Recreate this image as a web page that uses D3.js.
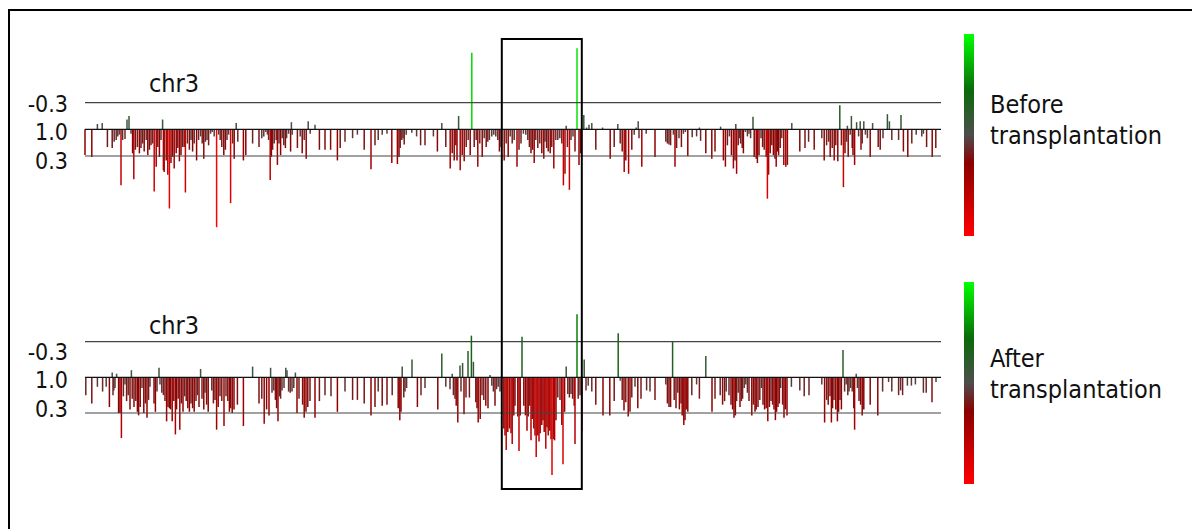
<!DOCTYPE html>
<html>
<head>
<meta charset="utf-8">
<script src="https://cdn.jsdelivr.net/npm/d3@7"></script>
<style>
body { margin: 0; background: #fff; }
svg { display: block; font-family: 'DejaVu Sans Condensed', 'DejaVu Sans', sans-serif; }
</style>
</head>
<body>
<svg id="chart" width="1192" height="529"></svg>
<script>
// chromosome 3, position (Mb) and expression deviation for each probe
const chrLength = 214;
const chrName = "chr3";

// before transplantation : [position, value]
const beforeBars = [
  [0.0,-0.29],[1.7,-0.31],[3.1,0.06],[4.3,0.07],[5.6,-0.20],[6.8,-0.21],[7.3,-0.14],[7.8,-0.12],[8.2,-0.08],[8.6,-0.06],
  [9.0,-0.63],[9.4,-0.12],[10.0,-0.11],[10.5,0.11],[11.0,0.15],[11.5,-0.05],[11.9,-0.27],[12.2,-0.56],[12.6,-0.23],[13.1,-0.20],
  [13.6,-0.27],[14.0,-0.21],[14.4,-0.16],[14.8,-0.25],[15.3,-0.12],[15.7,-0.29],[16.1,-0.23],[16.5,-0.18],[16.9,-0.16],[17.3,-0.70],
  [17.8,-0.42],[18.2,-0.20],[18.6,-0.31],[19.0,-0.12],[19.4,0.11],[19.6,-0.46],[19.8,-0.48],[20.3,-0.35],[20.7,-0.51],[21.1,-0.89],
  [21.5,-0.38],[21.9,-0.31],[22.3,-0.44],[22.8,-0.27],[23.2,-0.21],[23.6,-0.36],[24.0,-0.29],[24.4,-0.20],[24.8,-0.20],[25.1,-0.71],
  [25.6,-0.16],[26.1,-0.23],[26.5,-0.12],[26.9,-0.25],[27.3,-0.16],[27.9,-0.35],[28.4,-0.12],[28.9,-0.08],[29.3,-0.16],[29.7,-0.33],
  [30.1,-0.14],[30.5,-0.12],[30.9,-0.18],[31.4,-0.05],[31.8,-0.03],[32.3,-0.08],[32.9,-1.10],[33.4,-0.06],[33.8,-0.12],[34.2,-0.20],
  [34.7,-0.29],[35.1,-0.23],[35.5,-0.12],[35.9,-0.06],[36.4,-0.83],[36.9,-0.16],[37.3,-0.33],[37.8,0.07],[38.2,-0.14],[39.6,-0.35],
  [40.2,-0.29],[41.9,-0.16],[43.5,-0.20],[44.2,-0.10],[44.7,-0.08],[45.2,-0.03],[45.6,-0.06],[45.9,-0.12],[46.3,-0.57],[46.6,-0.31],
  [46.9,-0.23],[47.3,-0.16],[47.8,-0.12],[48.1,-0.40],[48.5,-0.16],[48.9,-0.29],[49.3,-0.10],[49.7,-0.18],[50.1,-0.21],[50.4,-0.10],
  [50.9,-0.05],[51.4,-0.25],[51.6,0.08],[51.8,-0.06],[53.1,-0.21],[53.8,-0.08],[54.3,-0.27],[54.8,-0.12],[55.3,-0.33],[55.8,0.09],
  [56.3,-0.05],[57.5,0.05],[58.6,-0.23],[60.0,-0.23],[61.4,-0.23],[63.1,-0.35],[63.8,-0.21],[65.0,-0.14],[66.9,-0.10],[68.1,-0.06],
  [69.8,-0.23],[71.5,-0.45],[72.5,-0.18],[73.3,-0.12],[74.3,-0.06],[75.5,-0.05],[76.7,-0.38],[78.1,-0.39],[78.5,-0.31],[78.8,-0.21],
  [79.2,-0.12],[79.5,-0.10],[79.8,-0.17],[80.3,-0.06],[81.7,-0.04],[82.9,-0.08],[83.9,-0.18],[85.0,-0.18],[87.1,-0.08],[88.1,-0.25],
  [89.2,0.07],[90.2,-0.20],[91.3,-0.44],[91.8,-0.27],[92.3,-0.35],[92.7,-0.18],[93.0,-0.35],[93.4,0.15],[93.8,-0.46],[94.3,-0.29],
  [94.8,-0.36],[95.3,-0.20],[95.8,-0.12],[96.3,-0.29],[96.7,0.86],[97.3,-0.20],[97.8,-0.12],[98.2,-0.42],[98.7,-0.16],[99.3,-0.31],
  [99.8,-0.10],[100.3,-0.20],[100.7,-0.14],[101.1,-0.12],[101.7,-0.08],[102.2,-0.06],[102.7,-0.08],[103.2,-0.12],[103.6,-0.25],[104.0,-0.20],
  [104.8,-0.35],[105.3,-0.16],[105.8,-0.31],[106.3,-0.08],[106.8,-0.16],[107.3,-0.12],[108.0,-0.42],[108.5,-0.23],[109.0,-0.16],[109.6,-0.05],
  [110.2,-0.06],[110.7,-0.12],[111.1,-0.20],[111.5,-0.27],[111.9,-0.23],[112.3,-0.38],[112.7,-0.12],[113.2,-0.21],[113.7,-0.16],[114.2,-0.27],
  [114.7,-0.33],[115.0,-0.14],[115.4,-0.21],[115.8,-0.25],[116.3,-0.27],[116.7,-0.20],[117.2,-0.44],[117.7,-0.12],[118.2,-0.12],[118.7,-0.10],
  [119.2,-0.16],[119.6,-0.63],[120.0,-0.50],[120.3,0.04],[120.6,-0.20],[121.1,-0.68],[121.5,-0.12],[122.0,-0.08],[122.5,-0.25],[123.0,0.91],
  [123.5,-0.40],[123.9,-0.27],[124.7,0.16],[125.4,0.02],[126.0,0.05],[126.7,0.07],[127.7,-0.23],[129.4,0.02],[131.3,-0.33],[132.3,-0.20],
  [133.2,0.06],[133.8,-0.16],[134.3,-0.25],[134.8,-0.48],[135.2,-0.35],[135.9,-0.50],[136.7,-0.23],[137.3,-0.06],[137.8,0.02],[138.3,0.09],
  [138.5,-0.10],[139.2,-0.42],[140.3,-0.05],[142.5,-0.31],[145.2,-0.14],[145.6,-0.16],[146.0,-0.17],[146.4,-0.18],[147.1,-0.06],[147.5,-0.42],
  [147.9,-0.21],[148.5,-0.10],[149.1,-0.20],[149.6,-0.05],[150.1,-0.03],[150.7,-0.30],[151.8,-0.09],[152.9,-0.08],[153.6,0.02],[153.9,-0.13],
  [155.2,-0.27],[156.7,-0.33],[157.5,-0.25],[158.9,0.03],[159.6,-0.35],[160.1,-0.42],[160.6,-0.18],[161.1,-0.08],[161.6,-0.29],[162.1,-0.44],
  [162.5,-0.35],[162.7,0.06],[162.9,-0.50],[163.3,-0.18],[163.6,-0.10],[163.9,-0.16],[164.3,-0.21],[164.6,-0.27],[165.1,-0.03],[165.6,-0.08],
  [166.0,-0.05],[166.4,-0.10],[167.0,0.14],[167.3,-0.31],[167.8,-0.33],[168.1,-0.38],[168.5,-0.29],[169.0,-0.10],[169.4,-0.20],[169.8,-0.23],
  [170.3,-0.31],[170.6,-0.78],[170.9,-0.51],[171.3,-0.27],[171.7,-0.18],[172.1,-0.29],[172.5,-0.33],[172.8,-0.42],[173.1,-0.25],[173.4,-0.29],
  [173.8,-0.21],[174.2,-0.10],[174.7,-0.40],[175.2,-0.42],[175.6,-0.40],[176.7,0.07],[178.7,-0.25],[180.0,-0.21],[180.9,-0.14],[182.3,-0.23],
  [184.2,-0.10],[184.8,-0.35],[185.4,-0.18],[185.9,-0.14],[186.3,-0.31],[186.8,-0.21],[187.3,-0.35],[187.7,-0.18],[188.2,-0.36],[188.7,0.27],
  [189.1,-0.18],[189.6,-0.65],[190.0,-0.27],[190.4,-0.14],[190.6,0.04],[190.8,-0.31],[191.3,-0.06],[191.6,0.15],[191.8,-0.21],[192.0,-0.29],
  [192.4,-0.40],[192.9,0.08],[193.4,-0.08],[193.8,0.09],[194.0,-0.23],[194.3,-0.16],[194.7,0.09],[195.1,-0.06],[195.6,-0.10],[196.3,-0.31],
  [196.9,0.07],[198.3,-0.20],[198.8,-0.23],[199.5,-0.10],[200.6,0.17],[201.1,0.09],[201.7,-0.12],[203.4,-0.12],[204.0,0.16],[204.6,-0.25],
  [205.7,-0.31],[206.7,-0.16],[207.8,-0.06],[209.2,-0.08],[209.6,-0.05],[210.4,-0.20],[211.8,-0.31],[212.7,-0.21]
];

// after transplantation : [position, value]
const afterBars = [
  [0.2,-0.15],[1.7,-0.22],[3.1,-0.08],[4.4,-0.12],[5.3,-0.08],[6.1,-0.25],[6.8,0.04],[7.0,-0.15],[7.2,-0.11],[7.5,-0.09],
  [7.9,0.03],[8.4,-0.30],[8.75,-0.30],[9.1,-0.51],[9.6,-0.16],[10.0,-0.06],[10.4,-0.20],[10.8,-0.15],[11.25,-0.27],[11.6,0.06],
  [11.8,-0.18],[12.25,-0.25],[12.7,-0.20],[13.1,-0.29],[13.4,-0.32],[13.8,-0.25],[14.25,-0.09],[14.7,-0.30],[15.1,-0.22],[15.5,-0.34],
  [15.9,-0.19],[16.25,-0.08],[17.25,-0.22],[17.6,-0.29],[18.0,-0.12],[18.5,0.08],[18.75,-0.06],[19.2,-0.13],[19.6,-0.15],[20.0,-0.20],
  [20.4,-0.37],[20.75,-0.25],[21.1,-0.26],[21.4,-0.27],[21.8,-0.37],[22.2,-0.20],[22.6,-0.48],[22.9,-0.27],[23.3,-0.18],[23.7,-0.44],
  [24.1,-0.22],[24.5,-0.29],[24.9,-0.16],[25.3,-0.20],[25.7,-0.26],[26.1,-0.29],[26.5,-0.22],[26.9,-0.26],[27.3,-0.29],[27.75,-0.20],
  [28.1,-0.15],[28.5,-0.25],[28.9,0.07],[29.25,-0.18],[29.7,-0.27],[30.0,-0.13],[30.4,-0.23],[30.8,-0.29],[31.7,-0.11],[32.1,-0.22],
  [32.5,-0.19],[32.9,-0.44],[33.3,-0.25],[33.75,-0.16],[34.2,-0.20],[34.75,-0.41],[35.25,-0.16],[35.7,-0.20],[36.1,-0.29],[36.4,-0.26],
  [36.8,-0.30],[37.25,-0.27],[38.1,-0.23],[39.6,-0.41],[41.9,0.09],[43.5,-0.22],[44.2,-0.18],[44.8,-0.39],[45.4,-0.27],[46.0,-0.32],
  [46.4,0.08],[46.75,-0.13],[47.2,-0.11],[47.6,-0.19],[47.9,-0.26],[48.25,-0.37],[48.6,-0.16],[48.9,-0.18],[49.25,-0.11],[49.75,-0.09],
  [50.2,0.08],[50.5,0.06],[50.9,-0.12],[51.3,-0.13],[51.75,-0.12],[52.2,-0.09],[52.6,0.04],[53.0,-0.30],[53.5,-0.18],[54.4,-0.23],
  [54.8,-0.34],[55.25,-0.29],[55.7,-0.25],[56.25,-0.20],[57.5,-0.34],[58.6,-0.20],[60.0,-0.15],[61.5,-0.16],[63.1,-0.29],[65.0,-0.12],
  [66.9,-0.19],[68.1,-0.19],[69.8,-0.22],[71.5,-0.32],[72.5,-0.25],[73.3,-0.12],[74.3,-0.24],[75.5,-0.23],[76.8,-0.15],[78.3,-0.26],
  [78.7,-0.36],[79.0,-0.29],[79.3,0.09],[79.7,-0.17],[80.0,-0.12],[80.4,-0.09],[81.75,0.15],[83.1,-0.25],[84.0,-0.15],[85.0,-0.09],
  [88.2,-0.27],[89.2,0.20],[90.2,-0.08],[91.25,-0.10],[91.8,0.03],[92.1,-0.15],[92.5,-0.18],[92.8,-0.24],[93.2,-0.38],[93.75,0.10],
  [94.0,-0.12],[94.4,0.12],[94.75,-0.31],[95.25,-0.17],[95.75,0.22],[96.1,-0.17],[96.6,0.35],[97.1,0.13],[97.7,-0.21],[98.0,-0.26],
  [98.3,-0.38],[98.8,-0.35],[99.25,-0.15],[99.7,-0.19],[100.2,-0.24],[100.75,-0.26],[101.25,0.02],[101.7,-0.07],[102.1,-0.12],[102.5,-0.24],
  [102.9,-0.10],[103.3,-0.08],[103.75,-0.12],[104.7,-0.43],[105.0,-0.49],[105.3,-0.61],[105.7,-0.46],[106.1,-0.43],[106.5,-0.47],[106.8,-0.56],
  [107.2,-0.32],[107.5,-0.24],[108.2,-0.33],[108.5,-0.62],[108.8,-0.32],[109.25,0.34],[109.7,-0.24],[110.1,-0.32],[110.5,-0.45],[110.8,-0.33],
  [111.2,-0.24],[111.5,-0.53],[111.8,-0.35],[112.2,-0.43],[112.5,-0.49],[112.8,-0.67],[113.2,-0.49],[113.5,-0.54],[113.8,-0.47],[114.2,-0.40],
  [114.5,-0.36],[114.8,-0.46],[115.2,-0.60],[115.5,-0.42],[115.8,-0.49],[116.2,-0.45],[116.5,-0.52],[116.75,-0.82],[117.1,-0.52],[117.4,-0.53],
  [117.75,-0.36],[118.2,-0.17],[118.75,-0.19],[119.2,-0.40],[119.5,-0.73],[119.9,-0.29],[120.3,0.09],[120.7,-0.14],[121.1,-0.17],[121.5,-0.14],
  [121.9,-0.18],[122.3,-0.24],[122.5,-0.56],[123.0,0.53],[123.3,-0.18],[123.75,-0.15],[124.2,-0.45],[124.8,0.15],[125.25,-0.11],[125.8,-0.07],
  [126.7,-0.12],[127.7,-0.23],[129.5,-0.32],[131.2,-0.32],[132.3,-0.20],[133.3,0.37],[133.8,-0.03],[134.3,-0.19],[134.75,-0.28],[135.2,-0.21],
  [135.8,-0.33],[136.25,-0.29],[136.7,-0.17],[137.5,-0.08],[138.2,-0.26],[139.0,-0.18],[140.4,-0.11],[141.25,-0.12],[142.5,-0.19],[145.2,-0.06],
  [145.6,-0.22],[146.0,-0.25],[146.4,-0.25],[146.9,0.30],[147.3,-0.19],[147.75,-0.26],[148.2,-0.13],[148.6,-0.27],[149.0,-0.22],[149.3,-0.32],
  [149.7,-0.40],[150.0,-0.36],[150.3,-0.27],[150.7,-0.29],[151.7,-0.15],[152.9,-0.06],[153.6,-0.18],[155.2,0.18],[156.75,-0.29],[157.5,-0.18],
  [158.8,-0.15],[159.4,-0.23],[159.9,-0.20],[160.3,-0.12],[161.0,-0.15],[161.5,-0.23],[161.9,-0.27],[162.25,-0.34],[162.6,-0.32],[162.9,-0.20],
  [163.3,-0.13],[163.75,-0.25],[164.1,-0.20],[164.4,-0.18],[164.8,-0.09],[165.2,-0.06],[165.6,-0.13],[166.0,-0.20],[166.7,-0.32],[167.1,-0.23],
  [167.5,-0.29],[167.8,-0.27],[168.25,-0.25],[168.7,-0.19],[169.1,-0.09],[169.5,-0.23],[169.9,-0.27],[170.3,-0.26],[170.7,-0.37],[171.1,-0.25],
  [171.5,-0.20],[171.9,-0.23],[172.25,-0.27],[172.6,-0.36],[172.9,-0.29],[173.25,-0.25],[173.6,-0.22],[173.9,-0.09],[174.4,-0.23],[174.75,-0.34],
  [175.1,-0.27],[175.5,-0.32],[176.6,-0.08],[178.7,-0.11],[179.8,-0.16],[181.0,-0.15],[184.2,-0.06],[184.9,-0.38],[185.4,-0.19],[185.8,-0.23],
  [186.25,-0.16],[186.6,-0.38],[186.9,-0.26],[187.25,-0.19],[187.7,-0.27],[188.1,-0.37],[188.4,-0.29],[188.75,-0.19],[189.1,-0.27],[189.5,0.23],
  [189.9,-0.12],[190.3,-0.06],[190.7,-0.15],[191.0,-0.12],[191.4,-0.09],[191.8,-0.12],[192.2,-0.26],[192.4,-0.44],[192.8,0.03],[193.1,-0.09],
  [193.5,-0.20],[193.9,-0.23],[194.3,-0.32],[194.7,-0.27],[196.3,-0.23],[198.2,-0.32],[199.4,-0.12],[200.9,-0.04],[201.7,-0.12],[203.4,-0.15],
  [203.9,-0.11],[204.4,-0.15],[205.6,-0.07],[206.6,-0.07],[207.6,-0.06],[209.6,-0.13],[210.3,-0.13],[211.75,-0.21],[212.75,-0.04]
];

// axis
const tickValues = [0.3, 0, -0.3];
const tickLabels = ["-0.3", "1.0", "0.3"];

// colour key (value -> colour), top of the bar = +1, bottom = -1
const keyValues = [1, 0.44, 0, -0.28, -1];
const keyColors = ["#00ff00", "#0b6a0b", "#4d4d4d", "#8b0000", "#ff0000"];

// highlighted region (Mb)
const highlight = [104.2, 124.2];

const legendLines = [["Before", "transplantation"], ["After", "transplantation"]];

const svg = d3.select("#chart");
svg.append("rect").attr("width", 1192).attr("height", 529).attr("fill", "#fff");

// outer frame (left + top visible)
svg.append("path").attr("d", "M9,529V10H1192").attr("fill", "none").attr("stroke", "#000").attr("stroke-width", 2);

const x = d3.scaleLinear().domain([0, chrLength]).range([85, 941]);
const color = d3.scaleLinear().domain(keyValues).range(keyColors).clamp(true);

const panels = [
  { bars: beforeBars, base: 129.3, half: 26.7, titleY: 92, key: [34, 236], textY: 113 },
  { bars: afterBars, base: 377.3, half: 35.7, titleY: 334, key: [282, 484], textY: 367 }
];

const defs = svg.append("defs");
const grad = defs.append("linearGradient").attr("id", "keygrad")
  .attr("x1", 0).attr("y1", 0).attr("x2", 0).attr("y2", 1);
grad.selectAll("stop").data(keyValues).join("stop")
  .attr("offset", d => (1 - d) / 2)
  .attr("stop-color", d => color(d));

panels.forEach((p, i) => {
  const y = d3.scaleLinear().domain([-0.3, 0.3]).range([p.base + p.half, p.base - p.half]);
  const g = svg.append("g");

  g.append("text").attr("x", 149).attr("y", p.titleY)
    .attr("font-size", 25).attr("fill", "#111").text(chrName);

  // bars
  g.append("g").selectAll("line").data(p.bars).join("line")
    .attr("x1", d => x(d[0])).attr("x2", d => x(d[0]))
    .attr("y1", y(0)).attr("y2", d => y(d[1]))
    .attr("stroke", d => color(d[1]))
    .attr("stroke-width", 1.5);

  // reference lines
  g.append("g").selectAll("line").data(tickValues).join("line")
    .attr("x1", x(0)).attr("x2", x(chrLength))
    .attr("y1", d => y(d)).attr("y2", d => y(d))
    .attr("stroke", d => d === 0 ? "#111" : "#444")
    .attr("stroke-width", 1.2);

  // tick labels (evenly spaced beside the lines)
  const ly = d3.scalePoint().domain(tickLabels).range([p.base - 26, p.base + 31]);
  g.append("g").selectAll("text").data(tickLabels).join("text")
    .attr("x", 68).attr("y", d => ly(d)).attr("dy", "0.36em")
    .attr("text-anchor", "end").attr("font-size", 23).attr("fill", "#111")
    .text(d => d);

  // colour key
  svg.append("rect").attr("x", 964).attr("y", p.key[0])
    .attr("width", 10).attr("height", p.key[1] - p.key[0])
    .attr("fill", "url(#keygrad)");
  svg.append("text").attr("x", 990).attr("y", p.textY)
    .attr("font-size", 25).attr("fill", "#111")
    .selectAll("tspan").data(legendLines[i]).join("tspan")
    .attr("x", 990).attr("dy", (d, j) => j === 0 ? 0 : 31)
    .text(d => d);
});

// highlight box spanning both panels
svg.append("rect")
  .attr("x", x(highlight[0])).attr("y", 39)
  .attr("width", x(highlight[1]) - x(highlight[0])).attr("height", 450)
  .attr("fill", "none").attr("stroke", "#000").attr("stroke-width", 2);
</script>
</body>
</html>
